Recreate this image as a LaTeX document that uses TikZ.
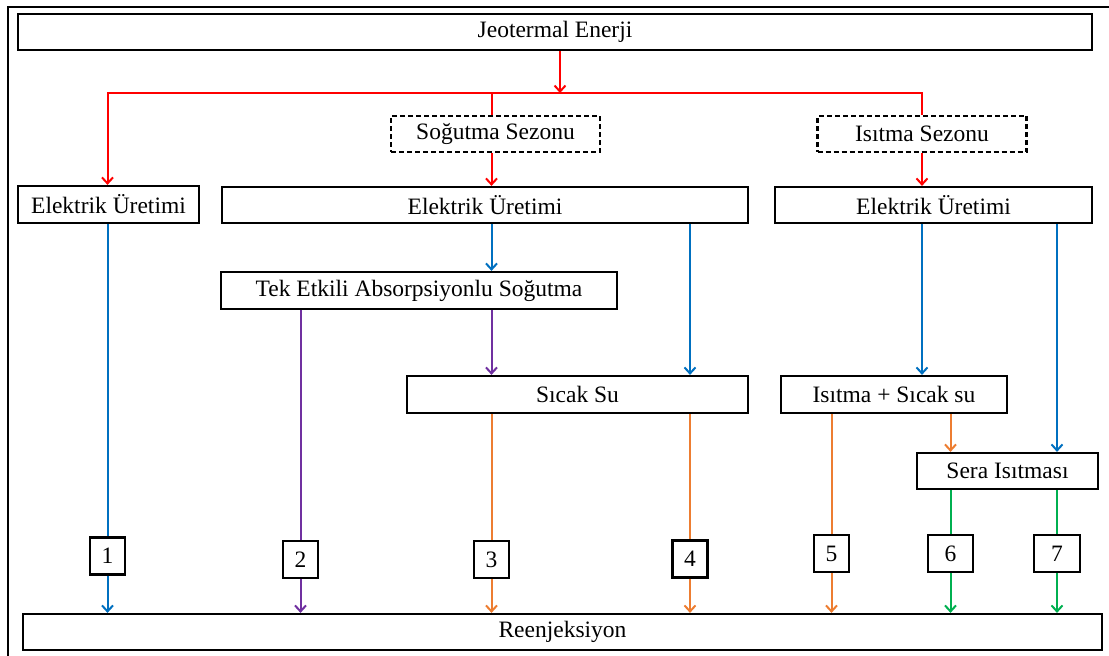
\documentclass[tikz,border=0pt]{standalone}
\usepackage{fontspec}
\setmainfont{Liberation Serif}
\usepackage{xcolor}
\usepackage{tikz}
\usetikzlibrary{arrows.meta}
\definecolor{kirmizi}{HTML}{FF0000}
\definecolor{mavi}{HTML}{0070C0}
\definecolor{mor}{HTML}{7030A0}
\definecolor{turuncu}{HTML}{ED7D31}
\definecolor{yesil}{HTML}{00B050}

\begin{document}
\begin{tikzpicture}[x=1pt, y=-1pt, >={Straight Barb[length=6pt,width=11pt]},
  kutu/.style={draw, line width=2.2pt, inner sep=0pt, minimum height=36pt, font=\fontsize{23.5}{27}\selectfont},
  sezon/.style={kutu, dash pattern=on 5pt off 3pt},
  numara/.style={kutu, minimum width=35pt, minimum height=37pt},
  hat/.style={line width=2pt}]
\useasboundingbox (0,0) rectangle (1109,656);
\draw[line width=2.5pt] (8,660) -- (8,7) -- (1115,7);
% Kutular
\node[kutu, minimum width=1074pt] (jeo) at (555,32) {Jeotermal Enerji};
\node[sezon, minimum width=209pt] (sog) at (495.5,134) {Soğutma Sezonu};
\node[sezon, minimum width=209pt] (isi) at (922,134) {Isıtma Sezonu};
\node[kutu, minimum width=181pt, minimum height=37pt] (e1) at (108.5,204.5) {Elektrik Üretimi};
\node[kutu, minimum width=526pt] (e2) at (485,205) {Elektrik Üretimi};
\node[kutu, minimum width=317pt] (e3) at (933.5,205) {Elektrik Üretimi};
\node[kutu, minimum width=396pt, minimum height=37pt] (tek) at (419,290.5) {Tek Etkili Absorpsiyonlu Soğutma};
\node[kutu, minimum width=341pt, minimum height=37pt] (sicak) at (577.5,394.5) {Sıcak Su};
\node[kutu, minimum width=226pt, minimum height=37pt] (isisu) at (894,394.5) {Isıtma + Sıcak su};
\node[kutu, minimum width=181pt] (sera) at (1007.5,471) {Sera Isıtması};
\node[numara] (n1) at (107.5,556) {1};
\node[numara] (n2) at (300.5,559.5) {2};
\node[numara] (n3) at (491.5,559.5) {3};
\node[numara] (n4) at (690,559) {4};
\node[numara] (n5) at (831.5,553.5) {5};
\node[numara, minimum width=45pt] (n6) at (950.5,553.5) {6};
\node[numara, minimum width=46pt] (n7) at (1057,553.5) {7};
\node[kutu, minimum width=1079pt] (reen) at (562.5,632) {Reenjeksiyon};
% Bağlantılar
\coordinate (bus) at (560,93);
\draw[hat, kirmizi, ->] (jeo.south -| bus) -- (bus);
\draw[hat, kirmizi, ->] (bus) -| (e1.north -| n1);
\draw[hat, kirmizi] (bus) -| (sog.north -| n3);
\draw[hat, kirmizi] (bus) -| (isi.north);
\draw[hat, kirmizi, ->] (sog.south -| n3) -- (e2.north -| n3);
\draw[hat, kirmizi, ->] (isi.south) -- (e3.north -| isi);
\draw[hat, mavi] (e1.south -| n1) -- (n1.north);
\draw[hat, mavi, ->] (e2.south -| n3) -- (tek.north -| n3);
\draw[hat, mavi, ->] (e2.south -| n4) -- (sicak.north -| n4);
\draw[hat, mavi, ->] (e3.south -| isi) -- (isisu.north -| isi);
\draw[hat, mavi, ->] (e3.south -| n7) -- (sera.north -| n7);
\draw[hat, mor] (tek.south -| n2) -- (n2.north);
\draw[hat, mor, ->] (tek.south -| n3) -- (sicak.north -| n3);
\draw[hat, turuncu] (sicak.south -| n3) -- (n3.north);
\draw[hat, turuncu] (sicak.south -| n4) -- (n4.north);
\draw[hat, turuncu] (isisu.south -| n5) -- (n5.north);
\draw[hat, turuncu, ->] (isisu.south -| n6) -- (sera.north -| n6);
\draw[hat, yesil] (sera.south -| n6) -- (n6.north);
\draw[hat, yesil] (sera.south -| n7) -- (n7.north);
\foreach \n/\renk in {n1/mavi, n2/mor, n3/turuncu, n4/turuncu, n5/turuncu, n6/yesil, n7/yesil}
  \draw[hat, \renk, ->] (\n.south) -- (reen.north -| \n);
\end{tikzpicture}
\end{document}
